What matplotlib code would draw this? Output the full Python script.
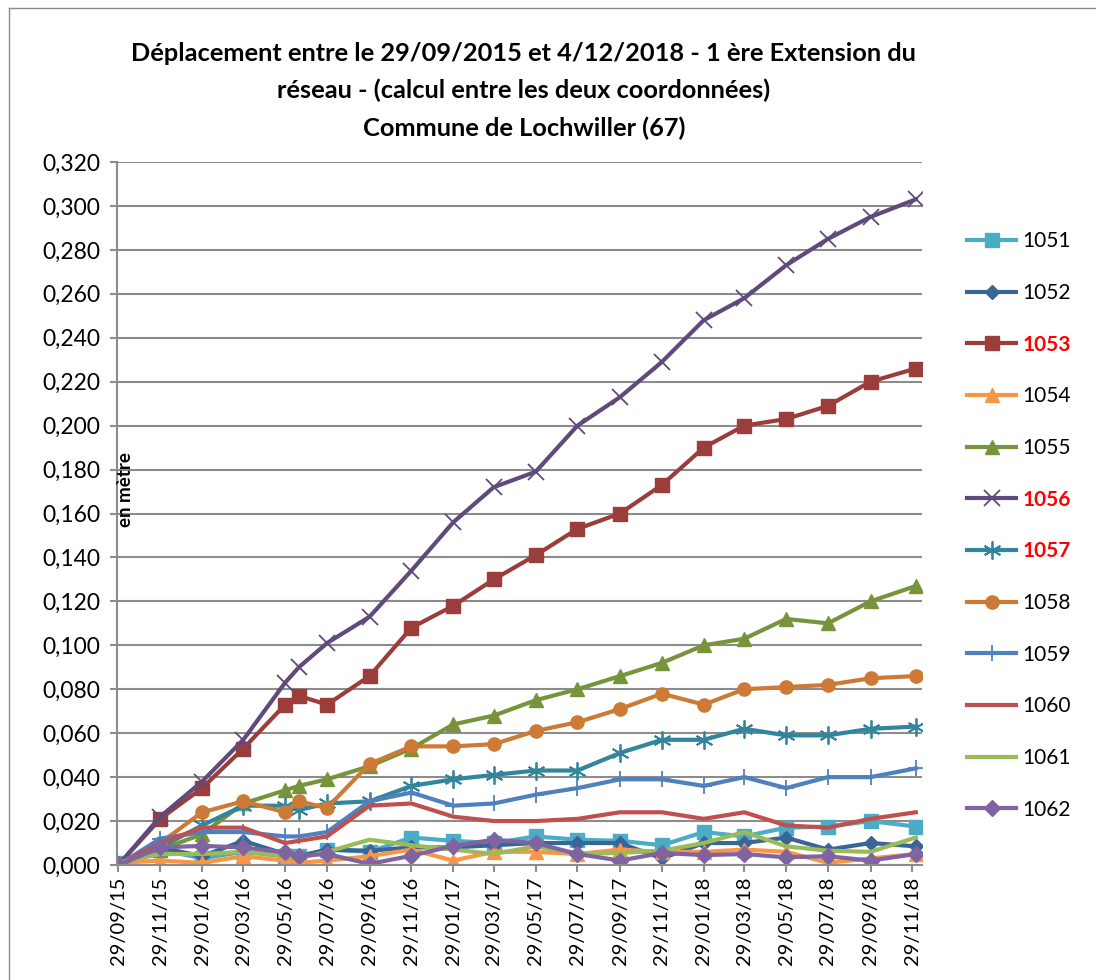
import pandas as pd
import matplotlib.pyplot as plt
import matplotlib.dates as mdates
from matplotlib.ticker import FuncFormatter
from matplotlib.lines import Line2D

plt.rcParams['font.family'] = ['Lato', 'DejaVu Sans']

# dates des mesures
dates = pd.to_datetime([
    "2015-09-29", "2015-11-29", "2016-01-29", "2016-03-29", "2016-05-29",
    "2016-06-18", "2016-07-29", "2016-09-29", "2016-11-29", "2017-01-29",
    "2017-03-29", "2017-05-29", "2017-07-29", "2017-09-29", "2017-11-29",
    "2018-01-29", "2018-03-29", "2018-05-29", "2018-07-29", "2018-09-29",
    "2018-12-04"])

# deplacements en metre
p1051 = [0.001, 0.007, 0.003, 0.006, 0.004, 0.004, 0.007, 0.006, 0.0125, 0.011, 0.010,
         0.013, 0.0115, 0.011, 0.009, 0.015, 0.013, 0.017, 0.0175, 0.020, 0.0175]
p1052 = [0.001, 0.008, 0.004, 0.011, 0.005, 0.004, 0.007, 0.0065, 0.008, 0.008, 0.009,
         0.010, 0.010, 0.010, 0.003, 0.010, 0.010, 0.0125, 0.007, 0.010, 0.0085]
p1053 = [0.000, 0.021, 0.035, 0.053, 0.073, 0.077, 0.073, 0.086, 0.108, 0.118, 0.130,
         0.141, 0.153, 0.160, 0.173, 0.190, 0.200, 0.203, 0.209, 0.220, 0.226]
p1054 = [0.001, 0.002, 0.001, 0.004, 0.002, 0.001, 0.002, 0.004, 0.007, 0.002, 0.006,
         0.006, 0.005, 0.007, 0.006, 0.006, 0.007, 0.006, 0.001, 0.003, 0.005]
p1055 = [0.000, 0.007, 0.014, 0.028, 0.034, 0.036, 0.039, 0.045, 0.053, 0.064, 0.068,
         0.075, 0.080, 0.086, 0.092, 0.100, 0.103, 0.112, 0.110, 0.120, 0.127]
p1056 = [0.000, 0.022, 0.038, 0.057, 0.083, 0.090, 0.101, 0.113, 0.134, 0.156, 0.172,
         0.179, 0.200, 0.213, 0.229, 0.248, 0.258, 0.273, 0.285, 0.295, 0.303]
p1057 = [0.000, 0.008, 0.018, 0.027, 0.027, 0.025, 0.028, 0.029, 0.036, 0.039, 0.041,
         0.043, 0.043, 0.051, 0.057, 0.057, 0.062, 0.059, 0.059, 0.062, 0.063]
p1058 = [0.000, 0.010, 0.024, 0.029, 0.024, 0.029, 0.026, 0.046, 0.054, 0.054, 0.055,
         0.061, 0.065, 0.071, 0.078, 0.073, 0.080, 0.081, 0.082, 0.085, 0.086]
p1059 = [0.000, 0.012, 0.015, 0.015, 0.013, 0.013, 0.015, 0.029, 0.033, 0.027, 0.028,
         0.032, 0.035, 0.039, 0.039, 0.036, 0.040, 0.035, 0.040, 0.040, 0.044]
p1060 = [0.000, 0.010, 0.017, 0.017, 0.010, 0.011, 0.013, 0.027, 0.028, 0.022, 0.020,
         0.020, 0.021, 0.024, 0.024, 0.021, 0.024, 0.018, 0.017, 0.021, 0.024]
p1061 = [0.001, 0.005, 0.005, 0.006, 0.004, 0.003, 0.006, 0.0115, 0.009, 0.007, 0.005,
         0.0085, 0.005, 0.0055, 0.0065, 0.010, 0.015, 0.0085, 0.0065, 0.006, 0.0125]
p1062 = [0.000, 0.008, 0.0087, 0.008, 0.0057, 0.0042, 0.005, 0.0005, 0.0042, 0.0087, 0.0115,
         0.010, 0.005, 0.002, 0.0055, 0.0045, 0.005, 0.0035, 0.004, 0.002, 0.005]

labels = ["1051", "1052", "1053", "1054", "1055", "1056",
          "1057", "1058", "1059", "1060", "1061", "1062"]
values = [p1051, p1052, p1053, p1054, p1055, p1056,
          p1057, p1058, p1059, p1060, p1061, p1062]
highlight = ["1053", "1056", "1057"]

colors = ["#4BACC6", "#3A6597", "#9B3D3A", "#F79646", "#77933C", "#604A7B",
          "#31859C", "#CC7A35", "#4F81BD", "#C0504D", "#9BBB59", "#8064A2"]
markers = ["s", "D", "s", "^", "^", "x", (6, 2, 0), "o", "+", None, None, "D"]
msizes = [9.5, 7.5, 9.5, 9.5, 9.5, 12, 13, 9.5, 12, 0, 0, 8.5]

fig = plt.figure(figsize=(10.96, 9.8), dpi=100)
ax = fig.add_axes([117 / 1096, 115 / 980, 805 / 1096, 703 / 980])

handles = []
for lab, vals, c, m, ms in zip(labels, values, colors, markers, msizes):
    mew = 1.3 if m in ("x", "+", (6, 2, 0)) else 1
    ln, = ax.plot(dates, vals, color=c, lw=3, marker=m, markersize=ms,
                  markeredgewidth=mew, markeredgecolor=c, markerfacecolor=c,
                  label=lab, solid_joinstyle="round")
    handles.append(ln)

ax.set_ylim(0, 0.32)
ax.set_yticks([i * 0.02 for i in range(17)])
ax.yaxis.set_major_formatter(FuncFormatter(lambda v, p: f"{v:.3f}".replace(".", ",")))
ax.set_xlim(pd.Timestamp("2015-09-27"), pd.Timestamp("2018-12-13"))
xt = pd.date_range("2015-09-01", "2018-11-01", freq="2MS") + pd.Timedelta(days=28)
ax.set_xticks(xt)
ax.xaxis.set_major_formatter(mdates.DateFormatter("%d/%m/%y"))
plt.setp(ax.get_xticklabels(), rotation=90)

ax.grid(axis="y", color="#8c8c8c", lw=1.5)
ax.set_axisbelow(True)
for s in ["top", "right"]:
    ax.spines[s].set_visible(False)
for s in ["left", "bottom"]:
    ax.spines[s].set_color("#8c8c8c")
    ax.spines[s].set_linewidth(1.5)
ax.tick_params(axis="both", colors="#8c8c8c", length=5, width=1.5, labelsize=14.5,
               labelcolor="black")
ax.tick_params(axis="y", labelsize=16.5, pad=7)

fig.text(0.478, 0.957, "Déplacement entre le 29/09/2015 et 4/12/2018 - 1 ère Extension du\n"
         "réseau - (calcul entre les deux coordonnées)\nCommune de Lochwiller (67)",
         ha="center", va="top", fontsize=18.3, fontweight="bold", linespacing=1.71)
fig.text(117 / 1096, 0.5, "en mètre", rotation=90, ha="left", va="center",
         fontsize=13.5, fontweight="bold")

leg = fig.legend(handles=handles, loc="upper left", bbox_to_anchor=(959 / 1096, 1 - 223 / 980),
                 frameon=False, fontsize=15, handlelength=2.35, handletextpad=0.3,
                 labelspacing=1.52, borderaxespad=0)
for t in leg.get_texts():
    if t.get_text() in highlight:
        t.set_color("red")
        t.set_fontweight("bold")

# cadre du graphique
fig.add_artist(Line2D([9 / 1096, 9 / 1096], [0, 1 - 8 / 980], color="#8c8c8c", lw=1))
fig.add_artist(Line2D([9 / 1096, 1], [1 - 8 / 980, 1 - 8 / 980], color="#8c8c8c", lw=1))

fig.savefig("out.png", dpi=100)
